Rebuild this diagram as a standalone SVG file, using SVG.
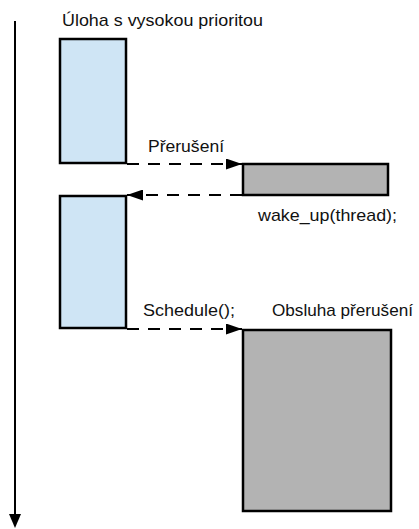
<svg xmlns="http://www.w3.org/2000/svg" width="419" height="529" viewBox="0 0 419 529">
<defs>
<style>
.t{font-family:"Liberation Sans",Arial,sans-serif;font-size:17px;fill:#111}
.blue{fill:#cfe5f5;stroke:#000;stroke-width:2.5}
.gray{fill:#b3b3b3;stroke:#000;stroke-width:2.5}
.dash{fill:none;stroke:#000;stroke-width:2;stroke-dasharray:12 9}
</style>
<marker id="ah" viewBox="0 0 10 10" refX="10" refY="5" markerWidth="16" markerHeight="11" markerUnits="userSpaceOnUse" orient="auto" preserveAspectRatio="none">
<path d="M0,0 L10,5 L0,10 Z" fill="#000"/>
</marker>
</defs>
<rect width="419" height="529" fill="#fff"/>
<g id="timeline">
<line x1="15" y1="21" x2="15" y2="516" stroke="#000" stroke-width="2"/>
<path d="M9,514 L21,514 L15,528 Z" fill="#000"/>
</g>
<g id="task1"><rect class="blue" x="60" y="39" width="66" height="124"/></g>
<g id="irq"><rect class="gray" x="243" y="164" width="145" height="31"/></g>
<g id="task2"><rect class="blue" x="60" y="196" width="66" height="132"/></g>
<g id="handler"><rect class="gray" x="243" y="330" width="148" height="181"/></g>
<g id="connectors">
<line class="dash" x1="127" y1="164" x2="242" y2="164" marker-end="url(#ah)"/>
<line class="dash" x1="242" y1="195" x2="127" y2="195" marker-end="url(#ah)"/>
<line class="dash" x1="127" y1="329" x2="242" y2="329" marker-end="url(#ah)"/>
</g>
<g id="labels">
<text class="t" x="62" y="26" textLength="201" lengthAdjust="spacingAndGlyphs">Úloha s vysokou prioritou</text>
<text class="t" x="148" y="152" textLength="76" lengthAdjust="spacingAndGlyphs">Přerušení</text>
<text class="t" x="258" y="221" textLength="139" lengthAdjust="spacingAndGlyphs">wake_up(thread);</text>
<text class="t" x="143" y="316" textLength="92" lengthAdjust="spacingAndGlyphs">Schedule();</text>
<text class="t" x="272" y="316" textLength="141" lengthAdjust="spacingAndGlyphs">Obsluha přerušení</text>
</g>
</svg>
